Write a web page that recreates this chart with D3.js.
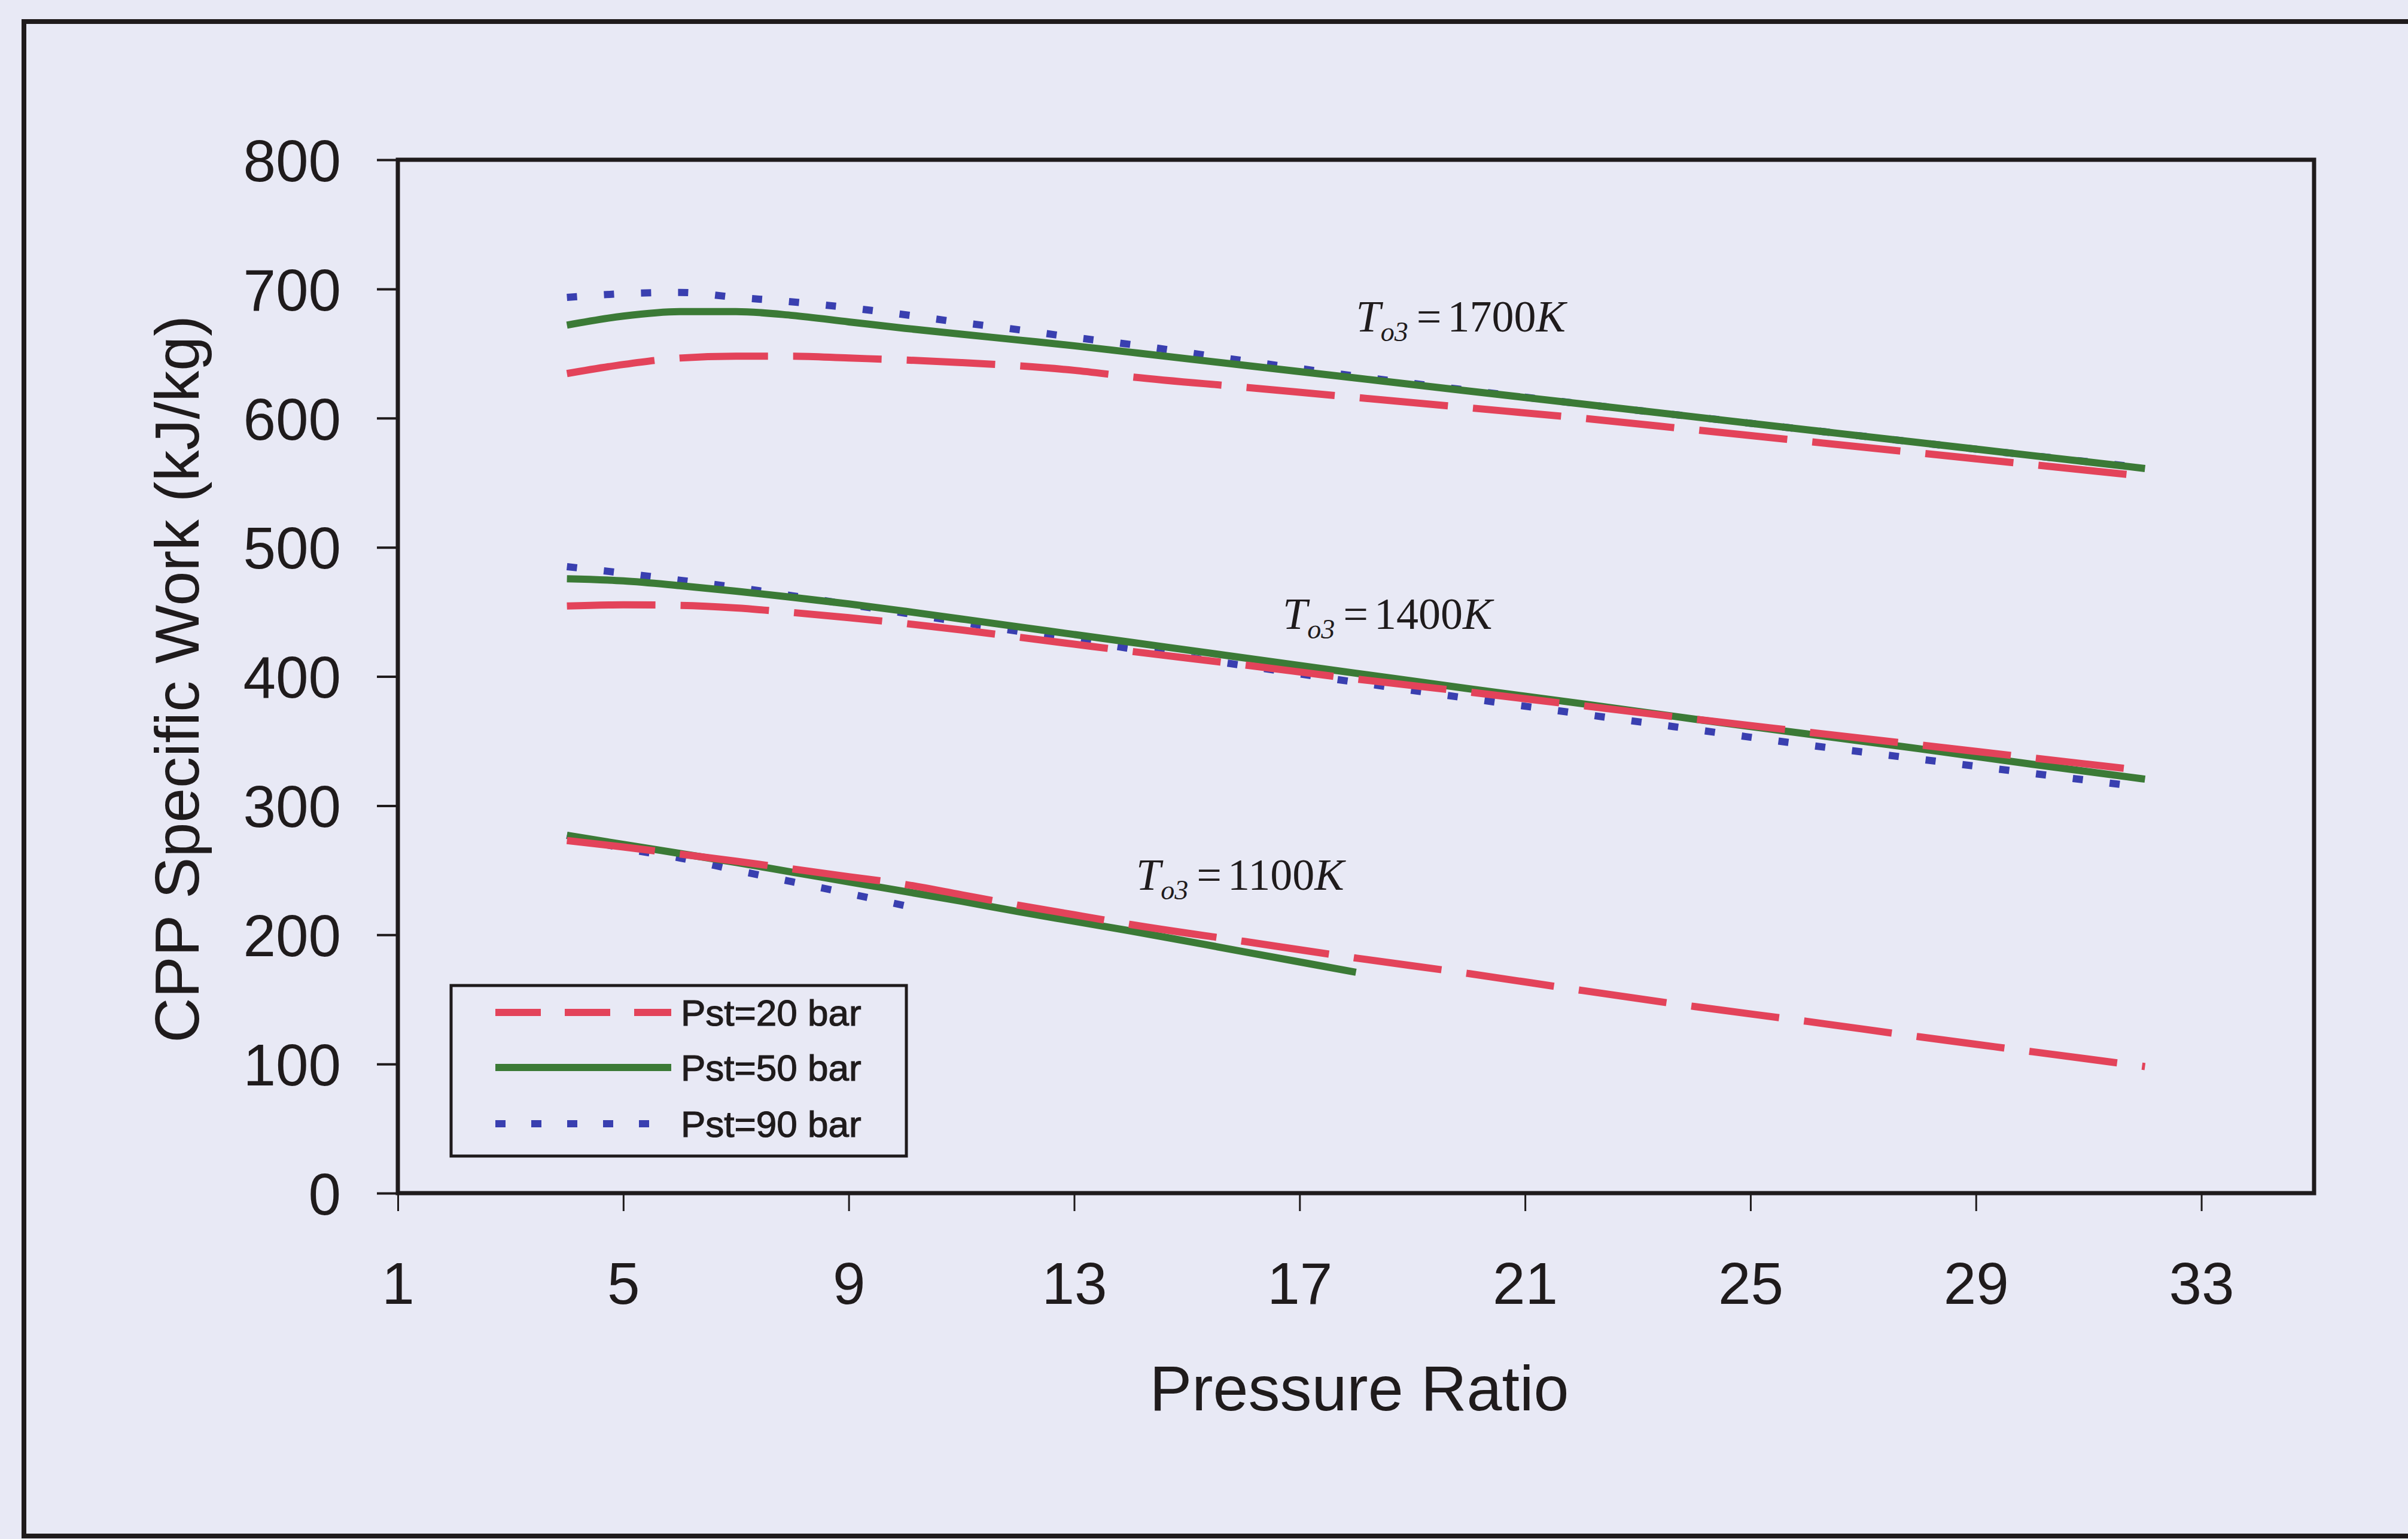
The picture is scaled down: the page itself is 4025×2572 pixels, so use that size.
<!DOCTYPE html>
<html>
<head>
<meta charset="utf-8">
<script src="https://cdn.jsdelivr.net/npm/d3@7"></script>
<style>
  html, body { margin: 0; padding: 0; background: #e8e9f5; }
  svg { display: block; }
</style>
</head>
<body>
<svg id="chart" width="4025" height="2572"></svg>
<script>
// Pressure ratios at which the cycle was evaluated
const pressureRatio = [4, 5, 6, 7, 8, 9, 10, 11, 12, 13, 14, 16, 18, 20, 22, 24, 26, 28, 30, 32];

// Tick values
const xTicks = [1, 5, 9, 13, 17, 21, 25, 29, 33];
const yTicks = [0, 100, 200, 300, 400, 500, 600, 700, 800];

// Legend entries (steam boiler pressure)
const seriesNames = ["Pst=20 bar", "Pst=50 bar", "Pst=90 bar"];

// Turbine inlet temperatures annotated on the curves
const turbineTemps = ["1700", "1400", "1100"];

// CPP specific work (kJ/kg), T_o3 = 1700 K
const work20_1700 = [634.5, 641.5, 646.5, 648, 648, 646.5, 645, 643, 640.5, 637, 632, 624, 616, 608, 600, 591, 582, 573, 564, 555];
const work50_1700 = [672, 679, 682.5, 682.5, 679.5, 674.5, 669.5, 665, 660.5, 656, 651, 641, 631, 621, 611, 601, 591, 581, 571, 561];
const work90_1700 = [693.5, 696.3, 697.3, 693.5, 690, 685.5, 680, 674, 668.5, 662.5, 657, 644.5, 632.5, 621.5, 611, 601, 591, 581, 571, 561.5];

// CPP specific work (kJ/kg), T_o3 = 1400 K
const work20_1400 = [454.5, 455.5, 455, 453, 449.5, 445.5, 441, 436, 430.5, 425, 419.5, 409, 398, 388, 377.5, 367, 357, 347, 337, 327];
const work50_1400 = [475.6, 474, 470.3, 466, 461.3, 456.2, 450.5, 444.5, 438.5, 432.5, 426.5, 414.5, 402.5, 390.5, 379, 367, 355.5, 344, 332, 320.5];
const work90_1400 = [485, 480, 474.5, 469, 462.5, 455.8, 449, 442, 435, 428.5, 421.5, 408.5, 395.5, 383, 371, 359, 347, 336, 325, 314];

// CPP specific work (kJ/kg), T_o3 = 1100 K (the 50 and 90 bar runs stop early)
const work20_1100 = [273, 268, 262.5, 257, 251, 245, 239, 231, 223, 215.5, 208, 195, 182, 170, 157, 144.5, 133, 121, 109.5, 98];
const work50_1100 = [277, 270, 263, 256, 248.5, 241, 233.5, 226, 218, 210.5, 203, 187, 171];
const work90_1100 = [277, 267, 259.5, 250, 241, 232, 222.5];

// ---- drawing ----
const svg = d3.select("#chart");
const sans = "'Liberation Sans', Arial, Helvetica, sans-serif";
const serif = "'Liberation Serif', 'Times New Roman', serif";
const ink = "#1f1b1c";

const x = d3.scaleLinear().domain([1, 35]).range([665, 3868]);
const y = d3.scaleLinear().domain([0, 800]).range([1994, 267]);

// page frame around the figure
svg.append("rect")
  .attr("x", 40).attr("y", 36)
  .attr("width", 4100).attr("height", 2531)
  .attr("fill", "none").attr("stroke", ink).attr("stroke-width", 8);

// series styling
const styles = [
  { color: "#e3435a", width: 12, dash: "148,42", legendDash: "76,40" },
  { color: "#3b7a36", width: 12, dash: null, legendDash: null },
  { color: "#393fb0", width: 12, dash: "17,45", legendDash: "17,43" }
];

const groups = [
  [work20_1700, work50_1700, work90_1700],
  [work20_1400, work50_1400, work90_1400],
  [work20_1100, work50_1100, work90_1100]
];

const line = d3.line()
  .x(d => x(d[0]))
  .y(d => y(d[1]))
  .curve(d3.curveMonotoneX);

const plot = svg.append("g");
groups.forEach(set => {
  // draw 90 bar first, then 50, then 20 so the dashed line sits on top
  [2, 1, 0].forEach(si => {
    const vals = set[si];
    const pts = vals.map((v, i) => [pressureRatio[i], v]);
    const st = styles[si];
    plot.append("path")
      .attr("d", line(pts))
      .attr("fill", "none")
      .attr("stroke", st.color)
      .attr("stroke-width", st.width)
      .attr("stroke-dasharray", st.dash)
      .attr("stroke-linecap", "butt");
  });
});

// plot-area border
svg.append("rect")
  .attr("x", x(1)).attr("y", y(800))
  .attr("width", x(35) - x(1)).attr("height", y(0) - y(800))
  .attr("fill", "none").attr("stroke", ink).attr("stroke-width", 7);

// y axis
const yAxis = svg.append("g")
  .attr("transform", `translate(${x(1)},0)`)
  .call(d3.axisLeft(y).tickValues(yTicks).tickSize(35).tickPadding(60));
yAxis.select(".domain").remove();
yAxis.selectAll("line").attr("stroke", ink).attr("stroke-width", 4);
yAxis.selectAll("text")
  .attr("font-family", sans).attr("font-size", 98)
  .attr("fill", ink).attr("dy", "0.36em");

// x axis
const xAxis = svg.append("g")
  .attr("transform", `translate(0,${y(0)})`)
  .call(d3.axisBottom(x).tickValues(xTicks).tickSize(30).tickPadding(85).tickFormat(d3.format("d")));
xAxis.select(".domain").remove();
xAxis.selectAll("line").attr("stroke", ink).attr("stroke-width", 3);
xAxis.selectAll("text")
  .attr("font-family", sans).attr("font-size", 98)
  .attr("fill", ink);

// axis titles
svg.append("text")
  .attr("x", 2272).attr("y", 2357)
  .attr("text-anchor", "middle")
  .attr("font-family", sans).attr("font-size", 106).attr("fill", ink)
  .text("Pressure Ratio");

svg.append("text")
  .attr("transform", `translate(332,1135) rotate(-90)`)
  .attr("text-anchor", "middle")
  .attr("font-family", sans).attr("font-size", 104).attr("fill", ink)
  .text("CPP Specific Work (kJ/kg)");

// temperature annotations placed in data coordinates
const annotAt = [[18, 667], [16.7, 437], [14.1, 235]];
turbineTemps.forEach((t, i) => {
  const txt = svg.append("text")
    .attr("x", x(annotAt[i][0])).attr("y", y(annotAt[i][1]))
    .attr("font-family", serif).attr("font-size", 74).attr("fill", ink);
  txt.append("tspan").attr("font-style", "italic").text("T");
  txt.append("tspan").attr("font-style", "italic").attr("font-size", 46).attr("dy", 16).text("o3");
  txt.append("tspan").attr("dy", -16).attr("dx", 14).text("=");
  txt.append("tspan").attr("dx", 10).text(t);
  txt.append("tspan").attr("font-style", "italic").text("K");
});

// legend
const legend = svg.append("g");
legend.append("rect")
  .attr("x", 754).attr("y", 1647).attr("width", 761).attr("height", 285)
  .attr("fill", "#e8e9f5").attr("stroke", ink).attr("stroke-width", 5);
const rowY = [1692, 1784, 1878];
seriesNames.forEach((name, i) => {
  const st = styles[i];
  legend.append("line")
    .attr("x1", 828).attr("x2", 1122)
    .attr("y1", rowY[i]).attr("y2", rowY[i])
    .attr("stroke", st.color).attr("stroke-width", st.width)
    .attr("stroke-dasharray", st.legendDash);
  legend.append("text")
    .attr("x", 1138).attr("y", rowY[i]).attr("dy", "0.36em")
    .attr("font-family", sans).attr("font-size", 62).attr("fill", ink)
    .attr("stroke", ink).attr("stroke-width", 1.2)
    .text(name);
});
</script>
</body>
</html>
